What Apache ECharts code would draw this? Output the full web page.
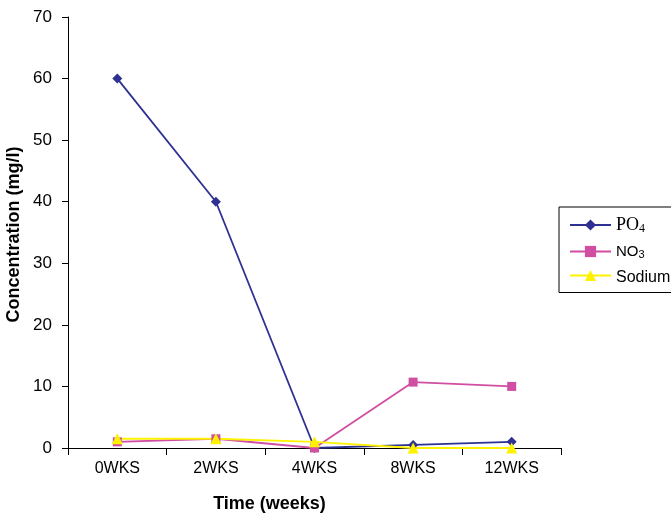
<!DOCTYPE html>
<html>
<head>
<meta charset="utf-8">
<script src="https://cdn.jsdelivr.net/npm/echarts@6/dist/echarts.min.js"></script>
<style>
  html, body { margin: 0; padding: 0; background: #fff; }
  #chart { width: 671px; height: 516px; }
</style>
</head>
<body>
<div id="chart"></div>
<script>
// Sampling times and measured concentrations (mg/l)
const weeks = ['0WKS', '2WKS', '4WKS', '8WKS', '12WKS'];
const po4 = [60, 40, 0, 0.5, 1];
const no3 = [1, 1.5, 0, 10.7, 10];
const sodium = [1.5, 1.5, 1, 0, 0];
const yTicks = { min: 0, max: 70, interval: 10 };

const font = 'Liberation Sans, Arial, sans-serif';

const chart = echarts.init(document.getElementById('chart'));
chart.setOption({
  backgroundColor: '#fff',
  animation: false,
  grid: { left: 68, right: 110, top: 17, bottom: 68, containLabel: false, outerBoundsMode: 'none' },
  legend: {
    orient: 'vertical',
    left: 559,
    top: 207,
    padding: [9, 30, 7, 10],
    itemGap: 9,
    itemWidth: 41,
    itemHeight: 14,
    borderColor: '#000',
    borderWidth: 1,
    textStyle: {
      fontFamily: font,
      fontSize: 16,
      color: '#000',
      rich: {
        serif: { fontFamily: 'Liberation Serif, Times New Roman, serif', fontSize: 18, color: '#000' },
        sans: { fontFamily: font, fontSize: 15, color: '#000' },
        subSerif: { fontFamily: 'Liberation Serif, serif', fontSize: 12, color: '#000', padding: [8, 0, 0, 0] },
        subSans: { fontFamily: font, fontSize: 11, color: '#000', padding: [7, 0, 0, 0] },
        plain: { fontFamily: font, fontSize: 16, color: '#000', padding: [4, 0, 0, 0] }
      }
    },
    formatter: function (name) {
      if (name === 'PO4') return '{serif|PO}{subSerif|4}';
      if (name === 'NO3') return '{sans|NO}{subSans|3}';
      return '{plain|' + name + '}';
    },
    data: ['PO4', 'NO3', 'Sodium']
  },
  xAxis: {
    type: 'category',
    data: weeks,
    boundaryGap: true,
    name: 'Time (weeks)',
    nameLocation: 'middle',
    nameGap: 47,
    nameMoveOverlap: false,
    nameTextStyle: { fontFamily: font, fontSize: 18, fontWeight: 'bold', color: '#000', padding: [0, 90, 0, 0] },
    axisLine: { lineStyle: { color: '#000', width: 1 } },
    axisTick: { show: true, inside: false, length: 7, alignWithLabel: false, interval: 0, lineStyle: { color: '#000' } },
    axisLabel: { fontFamily: font, fontSize: 16, color: '#000', margin: 13, interval: 0 },
    splitLine: { show: false }
  },
  yAxis: {
    type: 'value',
    min: yTicks.min,
    max: yTicks.max,
    interval: yTicks.interval,
    name: 'Concentration (mg/l)',
    nameLocation: 'middle',
    nameGap: 45,
    nameMoveOverlap: false,
    nameRotate: 90,
    nameTextStyle: { fontFamily: font, fontSize: 18, fontWeight: 'bold', color: '#000', padding: [0, 4, 0, 0] },
    axisLine: { show: true, lineStyle: { color: '#000', width: 1 } },
    axisTick: { show: true, inside: false, length: 6, lineStyle: { color: '#000' } },
    axisLabel: { fontFamily: font, fontSize: 17, color: '#000', margin: 16 },
    splitLine: { show: false }
  },
  series: [
    {
      name: 'PO4', type: 'line', data: po4,
      symbol: 'diamond', symbolSize: 10,
      lineStyle: { color: '#2e3192', width: 1.8 },
      itemStyle: { color: '#2e3192' }
    },
    {
      name: 'NO3', type: 'line', data: no3,
      symbol: 'rect', symbolSize: 9,
      lineStyle: { color: '#d04fa3', width: 1.8 },
      itemStyle: { color: '#d04fa3' }
    },
    {
      name: 'Sodium', type: 'line', data: sodium,
      symbol: 'triangle', symbolSize: 11,
      lineStyle: { color: '#fff200', width: 1.8 },
      itemStyle: { color: '#fff200' }
    }
  ]
});
</script>
</body>
</html>
